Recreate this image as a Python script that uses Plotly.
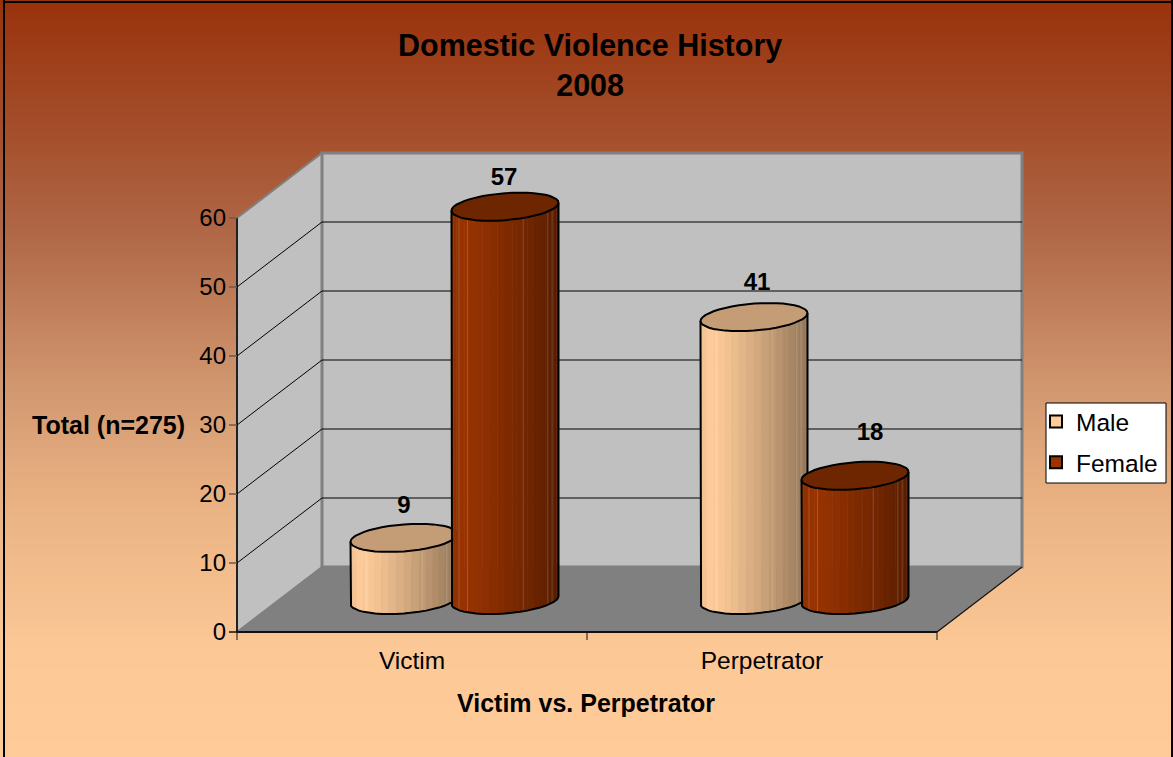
import numpy as np
import plotly.graph_objects as go

# ---- data ----
groups = ["Victim", "Perpetrator"]
male = [9, 41]
female = [57, 18]
y_ticks = [0, 10, 20, 30, 40, 50, 60]
title_text = "<b>Domestic Violence History<br>2008</b>"

# ---- layout constants (pixels of the 1173x757 picture) ----
W, H = 1173, 757
X0, PX_X = 237, 350.0      # x=0 pixel, pixels per group
Y0, PX_Y = 632, 6.9        # y=0 pixel, pixels per unit
DEPTH_X, DEPTH_Y = 85 / PX_X, 65 / PX_Y
PAD = 10                   # pixels of slack round the axes so edge lines are not clipped
FONT = "Liberation Sans"

def hexrgb(h):
    return np.array([int(h[i:i + 2], 16) for i in (1, 3, 5)], float)

def rgb(c):
    c = np.clip(np.round(c), 0, 255).astype(int)
    return f"rgb({c[0]},{c[1]},{c[2]})"

fig = go.Figure()

def poly(xs, ys, fill, line=None, width=1):
    fig.add_trace(go.Scatter(
        x=list(xs), y=list(ys), mode="lines", fill="toself", fillcolor=fill,
        line=dict(color=line or fill, width=width if line else 0),
        hoverinfo="skip", showlegend=False, cliponaxis=False))

def seg(xs, ys, color, width=1):
    fig.add_trace(go.Scatter(
        x=list(xs), y=list(ys), mode="lines", line=dict(color=color, width=width),
        hoverinfo="skip", showlegend=False, cliponaxis=False))

# walls and floor
top = max(y_ticks)
poly([0, DEPTH_X, DEPTH_X, 0, 0], [0, DEPTH_Y, top + DEPTH_Y, top, 0], "#C0C0C0", "#808080", 2)
poly([DEPTH_X, 2 + DEPTH_X, 2 + DEPTH_X, DEPTH_X, DEPTH_X],
     [DEPTH_Y, DEPTH_Y, top + DEPTH_Y, top + DEPTH_Y, DEPTH_Y], "#C0C0C0", "#808080", 3)
poly([0, 2, 2 + DEPTH_X, DEPTH_X, 0], [0, 0, DEPTH_Y, DEPTH_Y, 0], "#808080")
for t in y_ticks[1:-1]:
    seg([0, DEPTH_X, 2 + DEPTH_X], [t, t + DEPTH_Y, t + DEPTH_Y], "#000000", 1)
seg([2, 2 + DEPTH_X], [0, DEPTH_Y], "#111111", 1.2)
seg([0, 0], [0, top], "#000000", 1.5)
seg([0, 2], [0, 0], "#111111", 2)

# tick marks
for t in y_ticks:
    seg([-8 / PX_X, 0], [t, t], "#6b5a48" if t else "#111111", 1.5)
for t in [0, 1, 2]:
    seg([t, t], [0, -8 / PX_Y], "#111111", 1)

# cylinders
RX = 53.5 / PX_X
RY = 13.5 / PX_Y
TILT = 4 / PX_Y
BAR_OFF = 50.5 / PX_X
N = 22
FACET_LINES = [0.07, 0.15, 0.67, 0.90, 0.94]

def ring(cx, cy, t):
    return cx + RX * np.cos(t), cy + RY * np.sin(t) + TILT * np.cos(t)

def shade(u):
    # u = 0 at left edge .. 1 at right edge
    if u < 0.12:
        return 0.95 + 0.05 * u / 0.12
    return 1.0 - 0.42 * ((u - 0.12) / 0.88) ** 1.15

def cylinder(cx, v, base_hex, top_hex):
    base_y = (DEPTH_Y - 1 / PX_Y) / 2
    top_y = base_y + v
    ts = np.linspace(np.pi, 2 * np.pi, N + 1)   # front half, left to right
    base = hexrgb(base_hex)
    for a, b in zip(ts[:-1], ts[1:]):
        xa, ya = ring(cx, base_y, a)
        xb, yb = ring(cx, base_y, b)
        xa2, ya2 = ring(cx, top_y, a)
        xb2, yb2 = ring(cx, top_y, b)
        u = ((xa + xb) / 2 - (cx - RX)) / (2 * RX)
        c = rgb(base * shade(u))
        poly([xa, xb, xb2, xa2, xa], [ya, yb, yb2, ya2, ya], c, c, 0.5)
    for u in FACET_LINES:
        t = 2 * np.pi - np.arccos(2 * u - 1)
        xa, ya = ring(cx, base_y, t)
        xb, yb = ring(cx, top_y, t)
        seg([xa, xb], [ya, yb], "rgba(255,255,255,0.22)", 0.8)
    tt = np.linspace(0, 2 * np.pi, 2 * N + 1)
    xt, yt = ring(cx, top_y, tt)
    poly(xt, yt, top_hex, "#000000", 2)
    xf, yf = ring(cx, base_y, ts)
    xl, yl = ring(cx, top_y, ts)
    seg(list(xl[:1]) + list(xf) + list(xl[-1:]), list(yl[:1]) + list(yf) + list(yl[-1:]), "#000000", 2)

label_dx = {"m": [0, 3], "f": [-1, 15]}
label_dy = {"m": [31, 33], "f": [28, 42]}
lx, ly, lt = [], [], []
for i, g in enumerate(groups):
    gc = i + 0.5 + DEPTH_X / 2
    cylinder(gc - BAR_OFF, male[i], "#FFCC99", "#C49C76")
    cylinder(gc + BAR_OFF, female[i], "#993300", "#6E2600")
    for key, cx, v in (("m", gc - BAR_OFF, male[i]), ("f", gc + BAR_OFF, female[i])):
        lx.append(cx + label_dx[key][i] / PX_X)
        ly.append(32 / PX_Y + v + label_dy[key][i] / PX_Y)
        lt.append(f"<b>{v}</b>")

fig.add_trace(go.Scatter(x=lx, y=ly, text=lt, mode="text", textposition="middle center",
                         textfont=dict(family=FONT, size=24, color="#000000"),
                         hoverinfo="skip", showlegend=False, cliponaxis=False))

# legend entries
for name, col in (("Male", "#FFCC99"), ("Female", "#993300")):
    fig.add_trace(go.Scatter(x=[None], y=[None], mode="markers", name=name,
                             legendgroup=name,
                             marker=dict(symbol="square", size=13, color=col,
                                         line=dict(color="#000000", width=1.5))))

# gradient background: each band runs to the bottom so no seams show
shapes = []
GRAD_Y = [0, 145, 230, 395, 490, 650, 757]
GRAD_C = [(153, 50, 12), (166, 82, 47), (176, 103, 70), (211, 154, 114),
          (232, 176, 129), (252, 200, 150), (255, 204, 153)]
STEP = 3
for y in range(0, H, STEP):
    col = rgb(np.array([np.interp(y, GRAD_Y, [c[k] for c in GRAD_C]) for k in range(3)]))
    shapes.append(dict(type="rect", xref="paper", yref="paper", layer="below",
                       x0=0, x1=1, y0=1 - y / H, y1=0,
                       fillcolor=col, line=dict(width=0)))
# picture frame (top, left, right edges)
for x0, y0, x1, y1 in ((3, 0, 5, H), (1171, 0, W, H), (3, 1, W, 3)):
    shapes.append(dict(type="rect", xref="paper", yref="paper", layer="below",
                       x0=x0 / W, x1=x1 / W, y0=1 - y0 / H, y1=1 - y1 / H,
                       fillcolor="#000000", line=dict(width=0)))
# legend box
shapes.append(dict(type="rect", xref="paper", yref="paper", layer="below",
                   x0=1046 / W, x1=1166 / W, y0=1 - 403 / H, y1=1 - 483 / H,
                   fillcolor="#FFFFFF", line=dict(color="#000000", width=1)))

def note(text, px, py, size):
    return dict(text=text, xref="paper", yref="paper", x=px / W, y=1 - py / H,
                xanchor="center", yanchor="middle", showarrow=False,
                font=dict(family=FONT, size=size, color="#000000"))

annotations = [
    note("<b>Total (n=275)</b>", 108.5, 425, 25),
    note("<b>Victim vs. Perpetrator</b>", 586, 703, 25),
    note(title_text, 590, 65, 30.5),
]

x_max = 2 + DEPTH_X
y_max = top + DEPTH_Y

fig.update_layout(
    width=W, height=H, margin=dict(l=0, r=0, t=0, b=0, autoexpand=False),
    paper_bgcolor="#FFCC99", plot_bgcolor="rgba(0,0,0,0)",
    shapes=shapes, annotations=annotations,
    showlegend=True,
    legend=dict(x=1036 / W, y=1 - 399 / H, xanchor="left", yanchor="top",
                bgcolor="rgba(0,0,0,0)", borderwidth=0,
                font=dict(family=FONT, size=24.5, color="#000000"),
                tracegroupgap=6, itemsizing="constant"),
    xaxis=dict(domain=[(X0 - PAD) / W, (X0 + x_max * PX_X + PAD) / W],
               range=[-PAD / PX_X, x_max + PAD / PX_X],
               showgrid=False, zeroline=False, showline=False,
               tickmode="array", tickvals=[0.5, 1.5], ticktext=groups,
               ticks="", ticklabelstandoff=1,
               tickfont=dict(family=FONT, size=24.5, color="#000000")),
    yaxis=dict(domain=[(H - Y0 - PAD) / H, (H - Y0 + y_max * PX_Y + PAD) / H],
               range=[-PAD / PX_Y, y_max + PAD / PX_Y],
               showgrid=False, zeroline=False, showline=False,
               tickmode="array", tickvals=y_ticks, ticks="",
               ticklabelstandoff=0,
               tickfont=dict(family=FONT, size=24, color="#000000")),
)

fig.write_html("out.html", config={"displayModeBar": False},
               post_script="document.body.style.margin='0';")
